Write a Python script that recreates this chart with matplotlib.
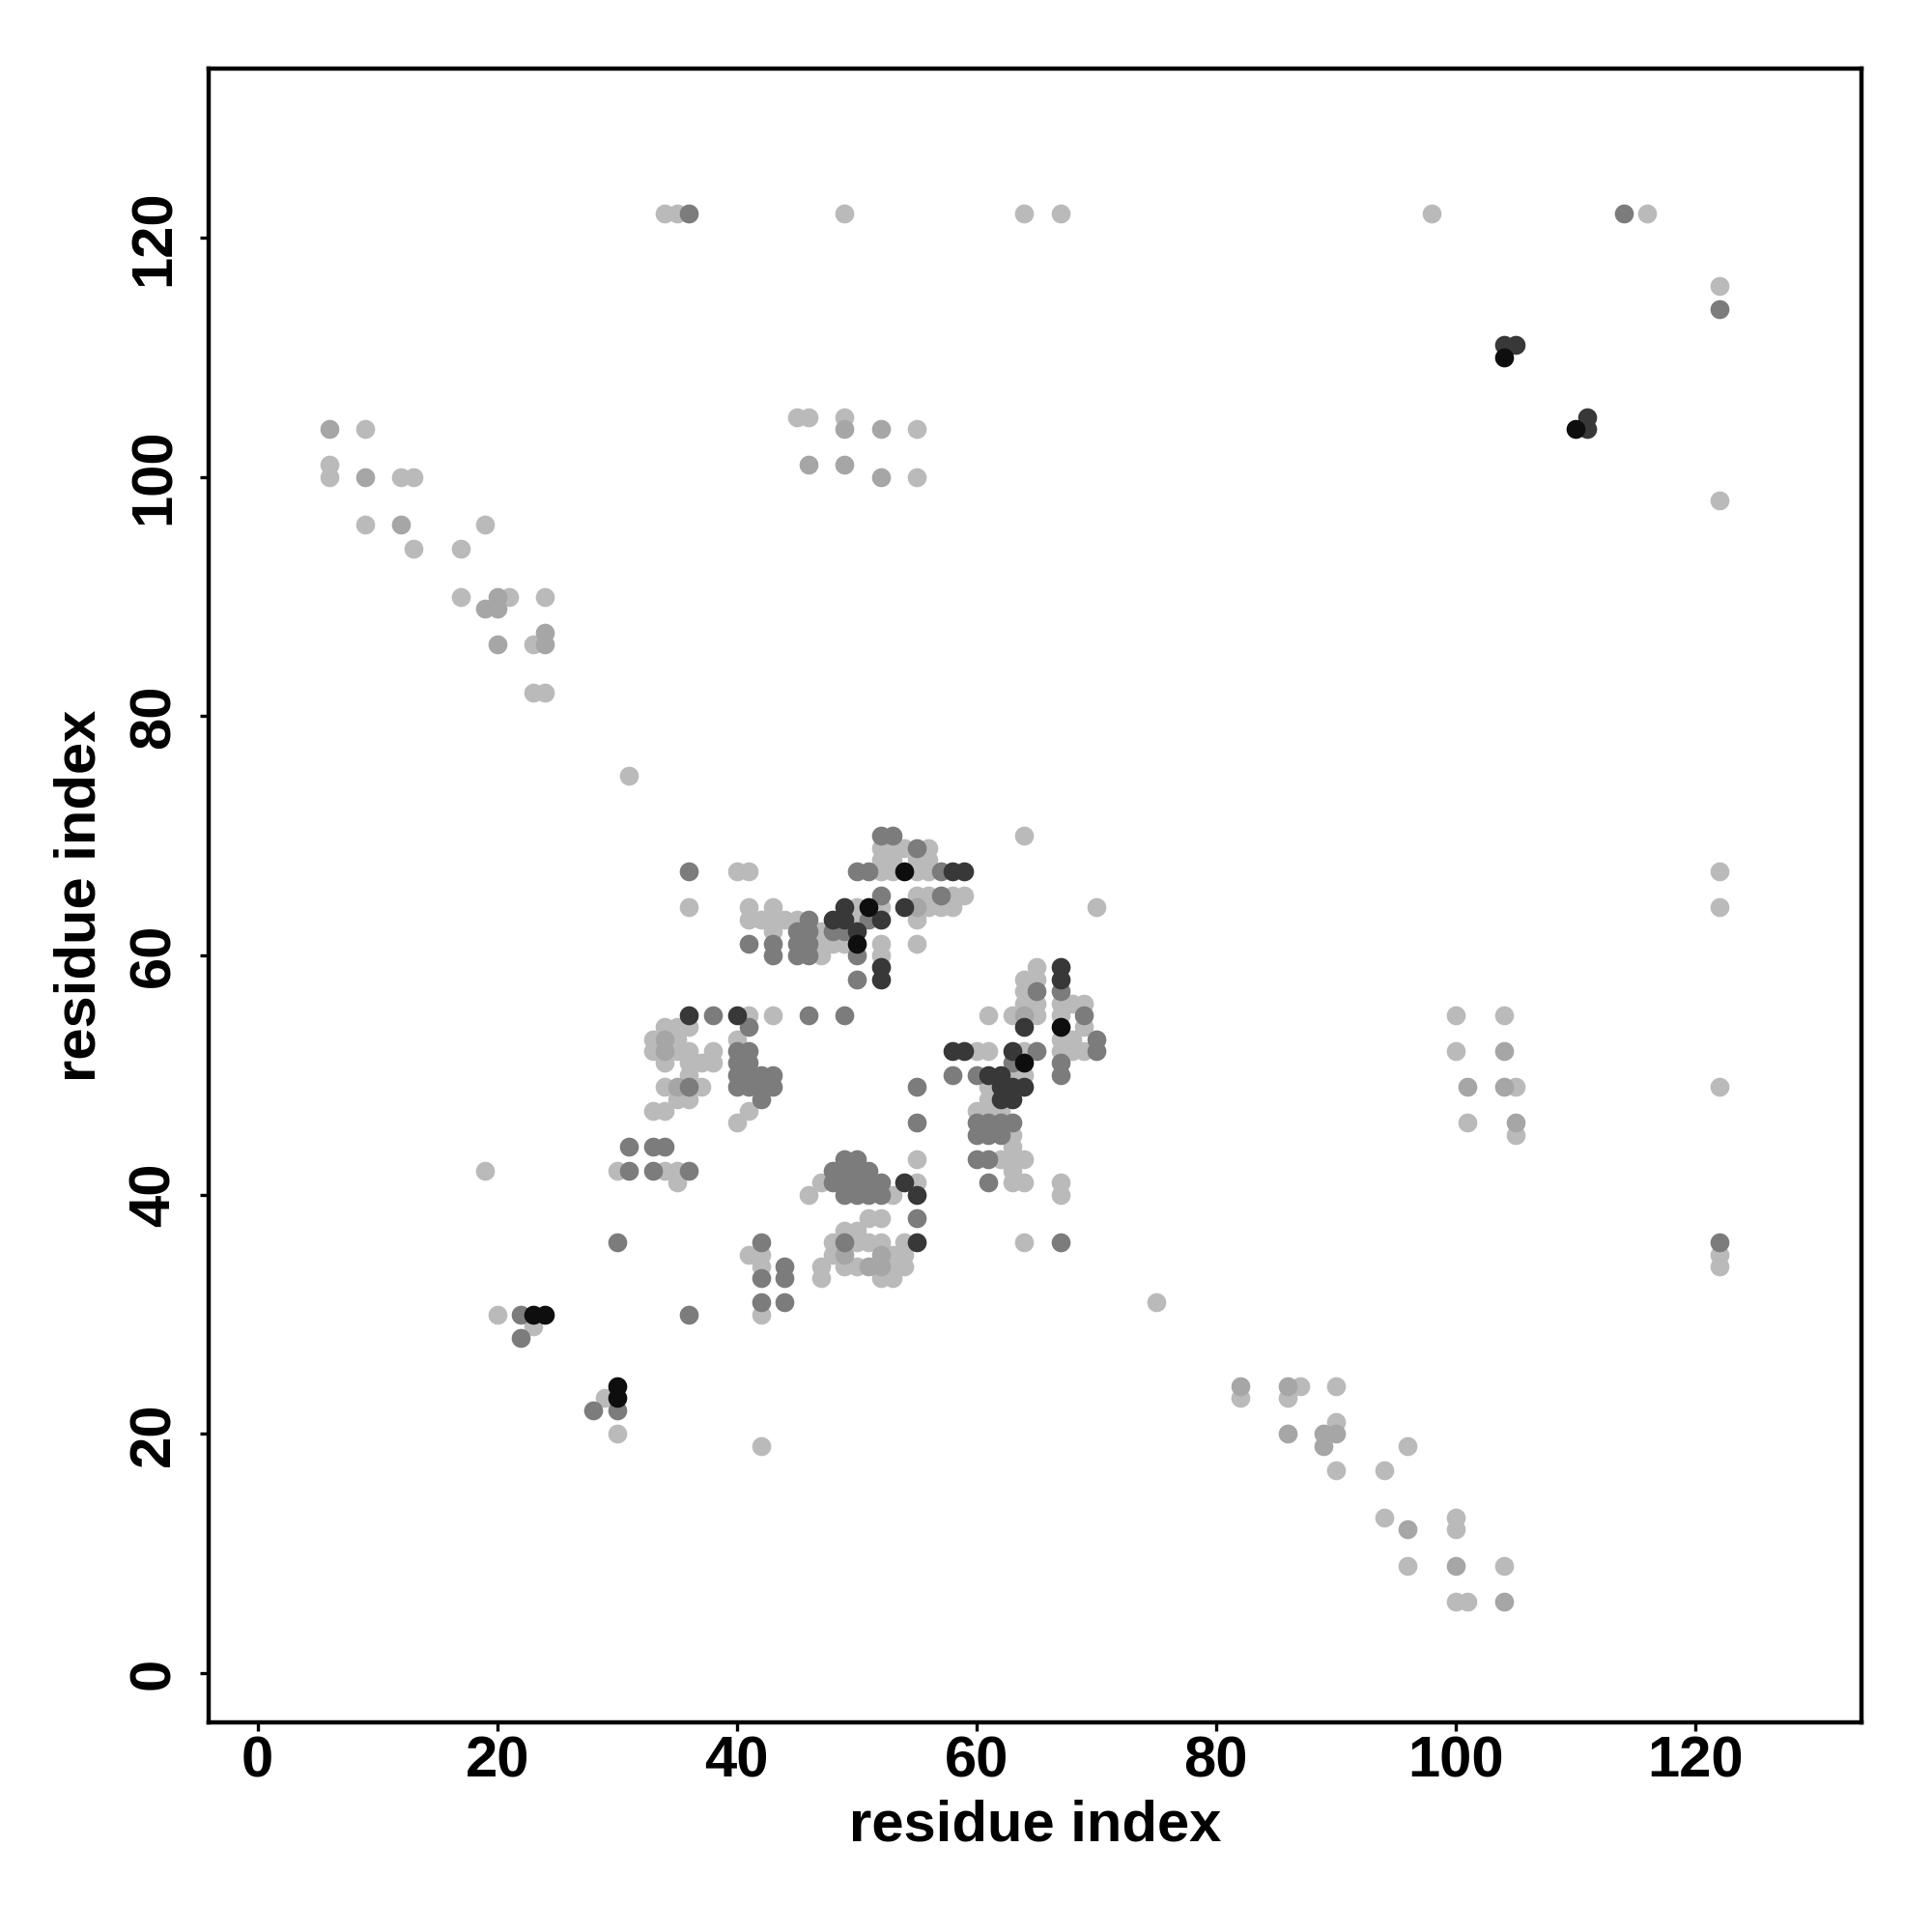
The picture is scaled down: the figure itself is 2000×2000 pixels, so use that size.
import matplotlib
matplotlib.use("Agg")
import matplotlib.pyplot as plt

# contactos (residuo i, residuo j), agrupados por nivel de gris (1 = claro ... 5 = negro)
nivel1 = [(9, 104), (6, 101), (6, 100), (12, 100), (13, 100), (9, 96), (19, 96), (13, 94), (17, 94),
          (17, 90), (21, 90), (24, 90), (23, 86), (23, 82), (24, 82),
          (34, 122), (35, 122), (49, 122), (64, 122), (67, 122), (98, 122), (116, 122),
          (45, 105), (46, 105), (49, 105), (55, 104), (55, 100),
          (122, 116), (122, 98), (122, 67), (122, 64), (100, 55), (104, 55), (100, 52), (105, 49),
          (122, 49), (101, 46), (105, 45), (122, 35), (122, 34), (75, 31),
          (82, 23), (87, 24), (86, 23), (90, 24), (90, 21), (96, 19), (90, 17), (94, 17), (94, 13),
          (100, 13), (100, 12), (96, 9), (104, 9), (100, 6), (101, 6),
          (20, 30), (23, 29), (29, 23), (30, 20), (42, 19), (31, 75), (19, 42),
          (41, 35), (42, 35), (42, 34), (42, 30), (30, 42), (34, 42), (35, 42), (35, 41),
          (34, 54), (35, 54), (36, 54), (33, 53), (35, 53), (33, 52), (35, 52), (36, 52), (38, 52),
          (34, 51), (36, 51), (37, 51), (38, 51), (36, 50), (34, 49), (37, 49), (35, 48), (36, 48),
          (33, 47), (34, 47), (41, 55), (43, 55), (40, 53), (41, 47), (40, 46),
          (40, 67), (41, 67), (52, 67), (53, 67), (55, 67), (56, 67),
          (52, 69), (53, 69), (54, 69), (56, 69), (52, 68), (53, 68), (55, 68), (56, 68),
          (55, 65), (56, 65), (58, 65), (59, 65),
          (36, 64), (41, 64), (43, 64), (50, 64), (52, 64), (56, 64), (57, 64), (58, 64),
          (41, 63), (42, 63), (43, 63), (44, 63), (45, 63), (50, 63), (55, 63),
          (43, 62), (47, 62), (47, 61), (48, 61), (49, 61), (52, 61), (55, 61), (47, 60), (52, 60),
          (64, 70), (70, 64),
          (65, 59), (64, 58), (65, 58), (64, 57), (64, 56), (65, 56), (67, 56), (68, 56), (69, 56),
          (61, 55), (63, 55), (65, 55), (67, 55), (69, 54), (67, 53), (68, 53),
          (60, 52), (61, 52), (64, 52), (67, 52), (68, 52), (69, 52), (63, 50), (64, 50),
          (61, 49), (61, 48), (60, 47), (61, 47), (62, 47), (63, 45), (63, 44),
          (62, 43), (63, 43), (64, 43), (63, 42), (63, 41), (64, 41), (67, 41), (67, 40), (64, 36),
          (55, 43), (55, 41), (53, 40), (46, 40), (47, 41),
          (47, 34), (47, 33), (48, 35), (48, 36), (49, 37), (49, 34), (50, 34), (50, 36), (51, 36),
          (52, 36), (51, 38), (52, 38), (50, 37), (53, 35), (54, 35), (53, 34), (54, 34),
          (52, 33), (53, 33), (54, 36)]
nivel2 = [(6, 104), (9, 100), (12, 96), (20, 90), (19, 89), (20, 89), (20, 86), (24, 86), (24, 87),
          (49, 104), (52, 104), (46, 101), (49, 101), (52, 100),
          (104, 52), (101, 49), (104, 49), (105, 46),
          (82, 24), (86, 24), (86, 20), (89, 20), (90, 20), (89, 19), (96, 12), (100, 9), (104, 6),
          (34, 53), (34, 52), (35, 49), (55, 64), (64, 55),
          (49, 35), (52, 35), (51, 34), (52, 34)]
nivel3 = [(36, 122), (114, 122), (122, 114), (122, 36),
          (22, 30), (22, 28), (36, 30), (28, 22), (30, 22),
          (42, 36), (42, 33), (44, 34), (44, 33), (42, 31), (44, 31), (30, 36),
          (31, 44), (33, 44), (34, 44), (31, 42), (33, 42), (36, 42), (36, 49),
          (38, 55), (46, 55), (49, 55), (41, 54), (41, 52), (40, 52),
          (40, 51), (41, 51), (40, 50), (41, 50), (42, 50), (43, 50),
          (40, 49), (41, 49), (42, 49), (43, 49), (42, 48),
          (36, 67), (50, 67), (51, 67), (57, 67), (52, 70), (53, 70), (55, 69), (52, 65), (57, 65),
          (46, 63), (51, 63), (45, 62), (46, 62), (48, 62), (49, 62),
          (41, 61), (43, 61), (45, 61), (46, 61), (43, 60), (45, 60), (46, 60), (50, 60), (50, 58),
          (65, 57), (67, 57), (69, 55), (70, 53), (70, 52), (65, 52), (63, 51), (67, 51),
          (58, 50), (60, 50), (67, 50),
          (60, 46), (61, 46), (62, 46), (63, 46), (60, 45), (61, 45), (62, 45),
          (60, 43), (61, 43), (61, 41), (67, 36),
          (55, 49), (55, 46), (55, 38),
          (48, 42), (49, 42), (50, 42), (51, 42), (49, 43), (50, 43), (48, 41), (49, 41), (50, 41),
          (51, 41), (52, 41), (49, 40), (50, 40), (51, 40), (52, 40), (49, 36)]
nivel4 = [(104, 111), (105, 111), (111, 105), (111, 104),
          (36, 55), (40, 55), (58, 67), (59, 67), (49, 64), (54, 64),
          (48, 63), (49, 63), (52, 63), (50, 62), (52, 59), (52, 58),
          (67, 59), (67, 58), (64, 54), (58, 52), (59, 52), (63, 52),
          (61, 50), (62, 50), (62, 49), (63, 49), (64, 49), (62, 48), (63, 48),
          (55, 40), (55, 36), (54, 41)]
nivel5 = [(104, 110), (110, 104), (23, 30), (24, 30), (30, 24), (30, 23),
          (54, 67), (51, 64), (50, 61), (64, 51), (67, 54)]

niveles = [nivel1, nivel2, nivel3, nivel4, nivel5]
grises = ['#bababa', '#a6a6a6', '#7c7c7c', '#383838', '#0e0e0e']
ticks = [0, 20, 40, 60, 80, 100, 120]

plt.rcParams['font.family'] = ['Liberation Sans', 'DejaVu Sans']
plt.rcParams['font.weight'] = 'bold'

fig = plt.figure(figsize=(10, 10), dpi=200)
ax = fig.add_axes([0.1078, 0.1084, 0.8559, 0.8559])

for pts, col in zip(niveles, grises):
    xs = [p[0] for p in pts]
    ys = [p[1] for p in pts]
    ax.scatter(xs, ys, s=50, c=col, linewidths=0, zorder=2)

ax.set_xlim(-4.11, 133.9)
ax.set_ylim(-4.13, 134.1)
ax.set_xticks(ticks)
ax.set_yticks(ticks)
ax.set_yticklabels([str(t) for t in ticks], rotation=90, va='center')
ax.tick_params(axis='both', length=3.2, width=1.2, labelsize=21.5, color='black')
ax.tick_params(axis='x', pad=1.5)
ax.tick_params(axis='y', pad=7)
for sp in ax.spines.values():
    sp.set_linewidth(1.6)

ax.set_xlabel('residue index', fontsize=21.5, fontweight='bold', labelpad=4)
ax.set_ylabel('residue index', fontsize=21.5, fontweight='bold', labelpad=8)

fig.savefig('out.png', dpi=200)
